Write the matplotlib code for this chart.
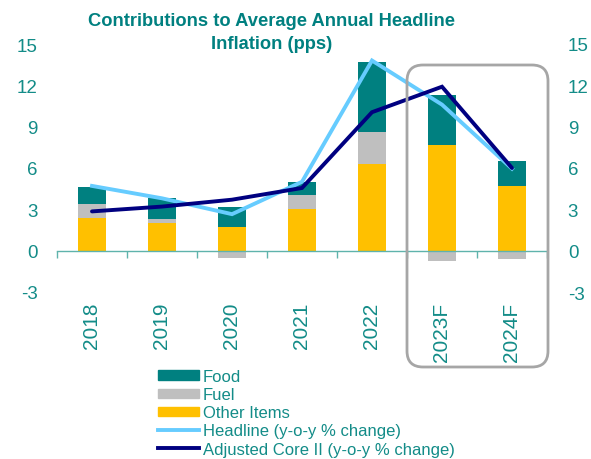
import matplotlib.pyplot as plt
from matplotlib.patches import FancyBboxPatch, Patch
from matplotlib.lines import Line2D
from matplotlib.transforms import IdentityTransform, blended_transform_factory
import numpy as np

plt.rcParams['font.family'] = ['Liberation Sans', 'DejaVu Sans']

years = ['2018', '2019', '2020', '2021', '2022', '2023F', '2024F']
other_items = [2.4, 2.0, 1.7, 3.0, 6.3, 7.65, 4.7]
fuel = [1.0, 0.3, -0.5, 1.05, 2.3, -0.75, -0.6]
food = [1.25, 1.5, 1.5, 0.95, 5.1, 3.65, 1.8]
headline = [4.7, 3.8, 2.65, 5.0, 13.8, 10.6, 5.95]
adj_core = [2.85, 3.2, 3.7, 4.55, 10.05, 11.9, 6.0]
yticks = [-3, 0, 3, 6, 9, 12, 15]

TEAL = '#008080'
TXT = '#138c88'
FUEL_C = '#bfbfbf'
OTHER_C = '#ffc000'
HEAD_C = '#66ccff'
CORE_C = '#000080'

fig = plt.figure(figsize=(5.91, 4.6), dpi=100)
ax = fig.add_axes([57 / 591, 1 - 293 / 460, 490 / 591, 248 / 460])

x = np.arange(len(years))
other_items = np.array(other_items)
fuel = np.array(fuel)
food = np.array(food)
w = 0.4

# positive fuel sits on top of other items, negative fuel hangs below zero
fuel_bottom = np.where(fuel > 0, other_items, 0)
food_bottom = other_items + np.clip(fuel, 0, None)

ax.bar(x, other_items, w, color=OTHER_C, zorder=2)
ax.bar(x, fuel, w, bottom=fuel_bottom, color=FUEL_C, zorder=2)
ax.bar(x, food, w, bottom=food_bottom, color=TEAL, zorder=2)

ax.plot(x, headline, color=HEAD_C, lw=2.8, zorder=3, solid_joinstyle='miter')
ax.plot(x, adj_core, color=CORE_C, lw=2.8, zorder=4, solid_joinstyle='miter',
        solid_capstyle='round')

ax.set_xlim(-0.5, len(years) - 0.5)
ax.set_ylim(-3, 15)

# zero line with separator ticks between categories
for s in ['top', 'left', 'right']:
    ax.spines[s].set_visible(False)
ax.spines['bottom'].set_position(('data', 0))
ax.spines['bottom'].set_color('#5fb3ac')
ax.spines['bottom'].set_linewidth(1.0)
ax.set_xticks(np.arange(-0.5, len(years), 1.0))
ax.set_xticklabels([])
ax.tick_params(axis='x', length=5, color='#5fb3ac', width=1.0)

ax.set_yticks(yticks)
ax.set_yticklabels([str(v) for v in yticks])
ax.tick_params(axis='y', length=0, pad=14, labelsize=13.5, labelcolor=TXT)

ax2 = ax.twinx()
ax2.set_ylim(ax.get_ylim())
ax2.set_yticks(yticks)
ax2.set_yticklabels([str(v) for v in yticks])
ax2.tick_params(axis='y', length=0, pad=15, labelsize=13.5, labelcolor=TXT)
for s in ax2.spines.values():
    s.set_visible(False)

trans = blended_transform_factory(ax.transData, ax.transAxes)
for xi, lab in zip(x, years):
    ax.text(xi, -0.038, lab, transform=trans, rotation=90, ha='center', va='top',
            fontsize=15, color=TXT)

fig.text(0.459, 0.972, 'Contributions to Average Annual Headline\nInflation (pps)',
         ha='center', va='top', fontsize=13.2, fontweight='bold', color=TEAL,
         linespacing=1.5)

# rounded frame around the forecast years
box = FancyBboxPatch((407, 460 - 368), 141, 302,
                     boxstyle='round,pad=0,rounding_size=16',
                     transform=IdentityTransform(), fill=False,
                     edgecolor='#a6a6a6', lw=2.0, zorder=5)
fig.patches.append(box)

handles = [
    Patch(color=TEAL, label='Food'),
    Patch(color=FUEL_C, label='Fuel'),
    Patch(color=OTHER_C, label='Other Items'),
    Line2D([], [], color=HEAD_C, lw=2.8, label='Headline (y-o-y % change)'),
    Line2D([], [], color=CORE_C, lw=2.8, label='Adjusted Core II (y-o-y % change)'),
]
leg = fig.legend(handles=handles, loc='upper left', bbox_to_anchor=(158 / 591, 1 - 370 / 460),
                 frameon=False, fontsize=12, labelspacing=0.19, handlelength=2.45,
                 handleheight=0.5, handletextpad=0.25, borderpad=0, borderaxespad=0)
for t in leg.get_texts():
    t.set_color(TXT)

fig.savefig('out.png', dpi=100)
